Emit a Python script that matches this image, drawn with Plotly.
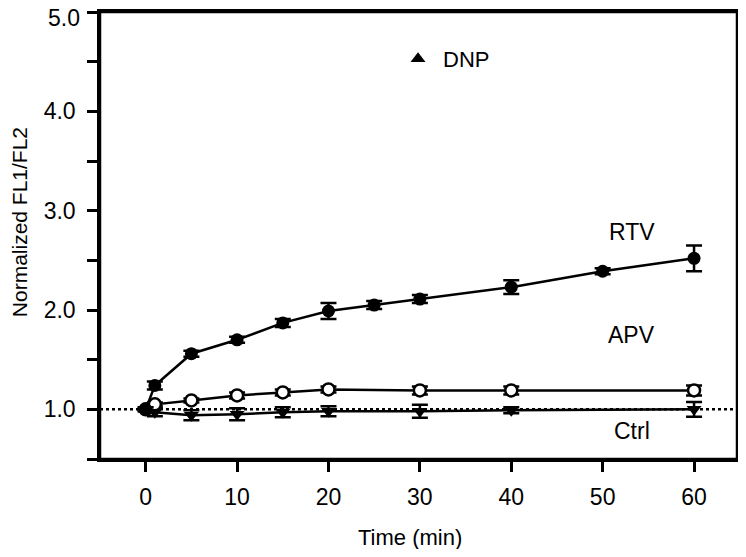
import plotly.graph_objects as go

# time points (min)
rtv_x = [0, 1, 5, 10, 15, 20, 25, 30, 40, 50, 60]
rtv_y = [1.00, 1.24, 1.56, 1.70, 1.87, 1.99, 2.05, 2.11, 2.23, 2.39, 2.52]
rtv_err = [0.02, 0.04, 0.03, 0.03, 0.04, 0.08, 0.04, 0.04, 0.07, 0.03, 0.13]

apv_x = [0, 1, 5, 10, 15, 20, 30, 40, 60]
apv_y = [1.00, 1.05, 1.09, 1.14, 1.17, 1.20, 1.19, 1.19, 1.19]
apv_err = [0.01, 0.02, 0.02, 0.03, 0.03, 0.03, 0.04, 0.04, 0.05]

ctrl_x = [0, 1, 5, 10, 15, 20, 30, 40, 60]
ctrl_y = [1.00, 0.97, 0.94, 0.95, 0.97, 0.98, 0.98, 0.99, 1.00]
ctrl_err = [0.02, 0.04, 0.05, 0.06, 0.05, 0.05, 0.065, 0.03, 0.075]

x_ticks = [0, 10, 20, 30, 40, 50, 60]
y_ticks = [0.5, 1.0, 1.5, 2.0, 2.5, 3.0, 3.5, 4.0, 4.5, 5.0]
# the top label (5.0) is added as an annotation so it isn't clipped at the page edge
y_ticktext = ["", "1.0", "", "2.0", "", "3.0", "", "4.0", "", ""]
top_label = "5.0"

series_labels = [("RTV", 53.2, 2.79), ("APV", 53.2, 1.75), ("Ctrl", 53.2, 0.78)]

FONT = "Liberation Sans, Arial, sans-serif"

fig = go.Figure()

# baseline at 1.0
fig.add_shape(type="line", xref="paper", x0=0, x1=1, yref="y", y0=1.0, y1=1.0,
              line=dict(color="black", width=2.5, dash="dot"), layer="below")
# box frame
fig.add_shape(type="rect", xref="paper", yref="paper", x0=0, x1=1, y0=0, y1=1,
              line=dict(color="black", width=2.5), layer="below")


def err(vals):
    return dict(type="data", array=vals, visible=True, color="black",
                thickness=2.5, width=8)


fig.add_trace(go.Scatter(
    x=ctrl_x, y=ctrl_y, mode="lines+markers", name="Ctrl", showlegend=False,
    line=dict(color="black", width=2.5),
    marker=dict(symbol="triangle-down", size=13, color="black"),
    error_y=err(ctrl_err),
))
fig.add_trace(go.Scatter(
    x=apv_x, y=apv_y, mode="lines+markers", name="APV", showlegend=False,
    line=dict(color="black", width=2.5),
    marker=dict(symbol="circle", size=12, color="white",
                line=dict(color="black", width=2.5)),
    error_y=err(apv_err),
))
fig.add_trace(go.Scatter(
    x=rtv_x, y=rtv_y, mode="lines+markers", name="RTV", showlegend=False,
    line=dict(color="black", width=2.5),
    marker=dict(symbol="circle", size=13, color="black"),
    error_y=err(rtv_err),
))
# legend-only entry
fig.add_trace(go.Scatter(
    x=[None], y=[None], mode="markers", name="DNP",
    marker=dict(symbol="triangle-up", size=13, color="black"),
))

for txt, lx, ly in series_labels:
    fig.add_annotation(x=lx, y=ly, text=txt, showarrow=False,
                       font=dict(size=23, color="black", family=FONT))

fig.add_annotation(xref="paper", yref="paper", x=0, y=1, xanchor="right",
                   yanchor="middle", xshift=-18, yshift=-6, text=top_label,
                   showarrow=False, font=dict(size=23, color="black", family=FONT))

fig.add_annotation(xref="paper", yref="paper", x=-0.127, y=0.53,
                   xanchor="center", yanchor="middle",
                   text="Normalized FL1/FL2", textangle=-90, showarrow=False,
                   font=dict(size=21, color="black", family=FONT))
fig.add_annotation(xref="paper", yref="paper", x=0.487, y=-0.175,
                   xanchor="center", yanchor="middle",
                   text="Time (min)", showarrow=False,
                   font=dict(size=22, color="black", family=FONT))

fig.update_xaxes(
    range=[-5, 64.7], tickvals=x_ticks, ticks="outside", ticklen=10, tickwidth=2.5,
    tickcolor="black", showline=True, linecolor="black", linewidth=2.5, mirror=True,
    showgrid=False, zeroline=False, ticklabelstandoff=6, ticklabeloverflow="allow",
    automargin=False,
    tickfont=dict(size=23, color="black", family=FONT),
)
fig.update_yaxes(
    range=[0.5, 5.0], tickvals=y_ticks, ticktext=y_ticktext, ticks="outside",
    ticklen=10, tickwidth=2.5, tickcolor="black", showline=True, linecolor="black",
    linewidth=2.5, mirror=True, showgrid=False, zeroline=False,
    ticklabelstandoff=7, ticklabeloverflow="allow", automargin=False,
    tickfont=dict(size=23, color="black", family=FONT),
)

# page body has an 8px margin, so keep the figure inside the window
fig.update_layout(
    width=730, height=541,
    margin=dict(l=92, r=1, t=4, b=90),
    plot_bgcolor="white", paper_bgcolor="white",
    font=dict(family=FONT, color="black"),
    legend=dict(x=0.46, y=0.895, xanchor="left", yanchor="middle",
                itemwidth=40,
                bgcolor="rgba(0,0,0,0)", font=dict(size=22, family=FONT)),
)

fig.write_html("out.html")
